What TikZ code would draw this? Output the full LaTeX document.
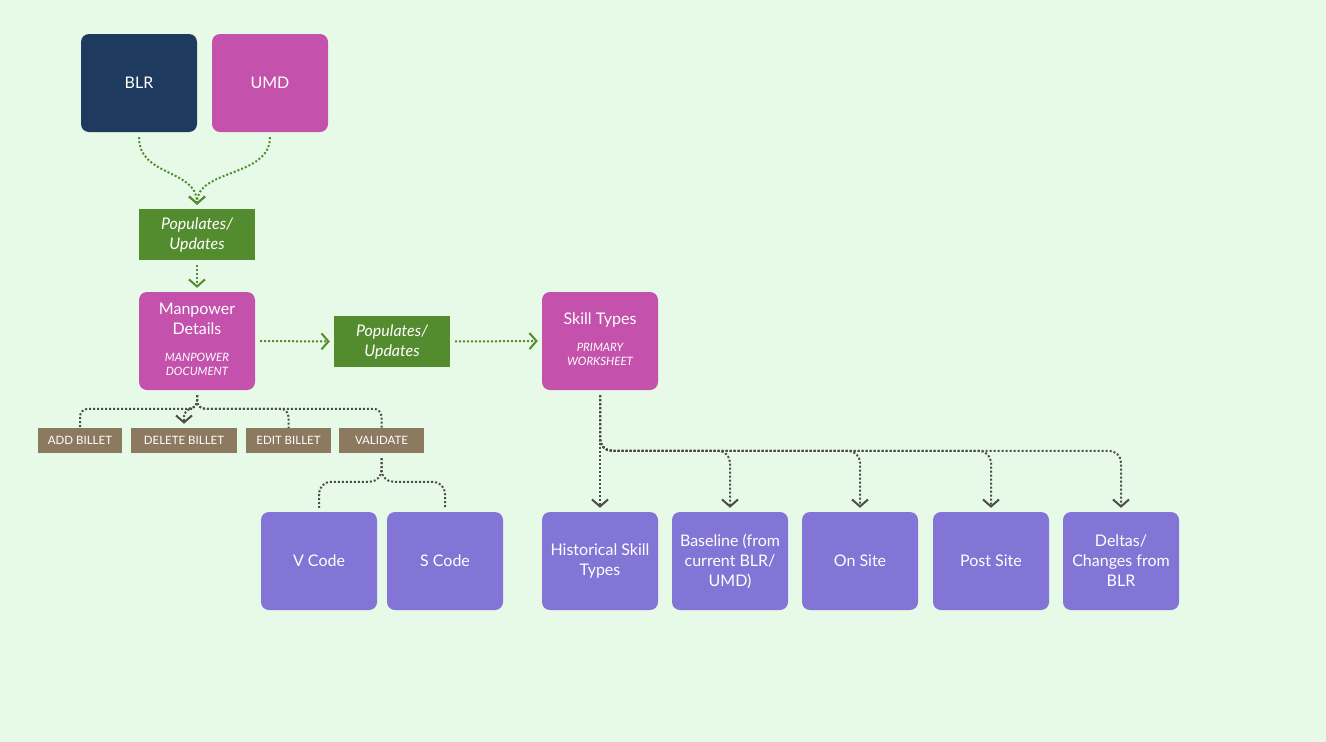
\documentclass[tikz,border=0pt]{standalone}
\usepackage{fontspec}
\setmainfont{Lato}
\usepackage{tikz}
\usepackage{xcolor}
\usetikzlibrary{arrows.meta,positioning,calc}
\definecolor{bggreen}{HTML}{E7F9E7}
\definecolor{navy}{HTML}{1F3A5F}
\definecolor{magenta}{HTML}{C452AD}
\definecolor{leaf}{HTML}{538C2F}
\definecolor{taupe}{HTML}{8B7A5F}
\definecolor{violet}{HTML}{8275D6}
\definecolor{wire}{HTML}{4D4D4D}
\newcommand{\subline}[2]{{\fontsize{11.5}{14}\selectfont\itshape\begin{tabular}{@{}c@{}}#1\\#2\end{tabular}}}

\begin{document}
\begin{tikzpicture}[x=1pt,y=-1pt,
  card/.style={rounded corners=8pt,minimum width=116pt,minimum height=98pt,align=center,text=white,font=\fontsize{16}{20}\selectfont,inner sep=2pt},
  tag/.style={minimum width=116pt,minimum height=51pt,fill=leaf,align=center,text=white,font=\fontsize{16}{20}\selectfont\itshape,inner sep=2pt},
  task/.style={minimum height=25pt,fill=taupe,text=white,font=\fontsize{11.5}{12}\selectfont,inner sep=2pt},
  tip/.style={-{Straight Barb[length=7pt,width=16pt]}},
  gflow/.style={leaf,line width=2pt,dash pattern=on 2pt off 2pt,shorten <=5pt,shorten >=4pt},
  kflow/.style={wire,line width=2pt,dash pattern=on 2pt off 2pt,shorten <=5pt,rounded corners=12pt}
]
% Canvas
\fill[bggreen] (0,0) rectangle (1326,742);
\useasboundingbox (0,0) rectangle (1326,742);

% Sources
\node[card,fill=navy] (blr) at (139,83) {BLR};
\node[card,fill=magenta] (umd) at (270,83) {UMD};

% Manpower branch
\node[tag] (pop1) at (197,234.5) {Populates/\\Updates};
\node[card,fill=magenta] (mp) at (197,341) {Manpower\\Details\\[14pt]\subline{MANPOWER}{DOCUMENT}};
\node[task,minimum width=84pt] (add) at (80,440.5) {ADD BILLET};
\node[task,minimum width=106pt] (del) at (184,440.5) {DELETE BILLET};
\node[task,minimum width=85pt] (edit) at (288.5,440.5) {EDIT BILLET};
\node[task,minimum width=85pt] (val) at (381.5,440.5) {VALIDATE};
\node[card,fill=violet] (vc) at (319,561) {V Code};
\node[card,fill=violet] (sc) at (445,561) {S Code};

% Skill branch
\node[tag] (pop2) at (392,341.5) {Populates/\\Updates};
\node[card,fill=magenta] (sk) at (600,341) {Skill Types\\[14pt]\subline{PRIMARY}{WORKSHEET}};
\node[card,fill=violet] (hist) at (600,561) {Historical Skill\\Types};
\node[card,fill=violet] (base) at (730,561) {Baseline (from\\current BLR/\\UMD)};
\node[card,fill=violet] (onst) at (860,561) {On Site};
\node[card,fill=violet] (post) at (991,561) {Post Site};
\node[card,fill=violet] (delta) at (1121,561) {Deltas/\\Changes from\\BLR};

% Green flows
\draw[gflow,tip] (blr.south) .. controls +(0,45) and +(0,-40) .. (pop1.north);
\draw[gflow,tip] (umd.south) .. controls +(0,45) and +(0,-40) .. (pop1.north);
\draw[gflow,tip] (pop1.south) -- (mp.north);
\draw[gflow,tip] (mp.east) -- (pop2.west);
\draw[gflow,tip] (pop2.east) -- (sk.west);

% Manpower actions
\draw[kflow,rounded corners=8pt] (mp.south) |- ([yshift=19pt]add.north) -- (add.north);
\draw[kflow,rounded corners=8pt,tip,shorten >=4pt] (mp.south) |- ([yshift=19pt]del.north) -- (del.north);
\draw[kflow,rounded corners=8pt] (mp.south) |- ([yshift=19pt]edit.north) -- (edit.north);
\draw[kflow,rounded corners=8pt] (mp.south) |- ([yshift=19pt]val.north) -- (val.north);

% Validate codes
\draw[kflow] (val.south) |- ([yshift=30pt]vc.north) -- ([yshift=4pt]vc.north);
\draw[kflow] (val.south) |- ([yshift=30pt]sc.north) -- ([yshift=4pt]sc.north);

% Skill outputs
\draw[kflow,tip,shorten >=4pt] (sk.south) -- (hist.north);
\foreach \t in {base,onst,post,delta}
  \draw[kflow,tip,shorten >=4pt] (sk.south) |- ([yshift=61pt]\t.north) -- (\t.north);
\end{tikzpicture}
\end{document}
